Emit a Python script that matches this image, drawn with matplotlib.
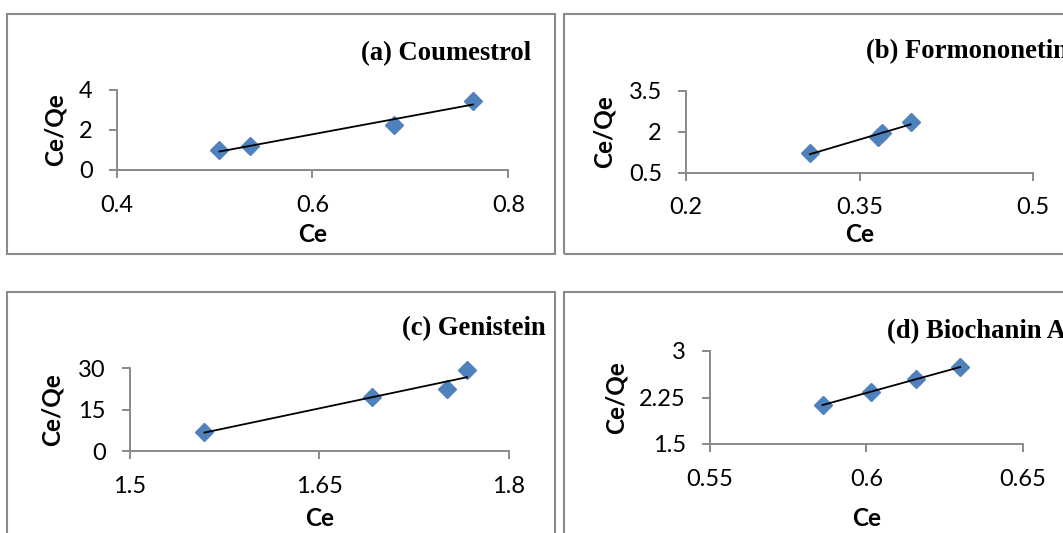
import numpy as np
import matplotlib
matplotlib.use('Agg')
import matplotlib.pyplot as plt
from matplotlib.patches import Rectangle
from matplotlib.ticker import FuncFormatter

# Langmuir-type plots: Ce/Qe against Ce for four isoflavones
coum_ce = [0.505, 0.536, 0.683, 0.764]
coum_ratio = [1.00, 1.22, 2.25, 3.47]

form_ce = [0.307, 0.366, 0.369, 0.394]
form_ratio = [1.21, 1.82, 1.94, 2.34]

gen_ce = [1.559, 1.692, 1.751, 1.767]
gen_ratio = [6.9, 19.5, 22.4, 29.4]

bio_ce = [0.586, 0.6015, 0.616, 0.630]
bio_ratio = [2.13, 2.34, 2.55, 2.74]

coum_xticks = [0.4, 0.6, 0.8]
coum_yticks = [0, 2, 4]
form_xticks = [0.2, 0.35, 0.5]
form_yticks = [0.5, 2, 3.5]
gen_xticks = [1.5, 1.65, 1.8]
gen_yticks = [0, 15, 30]
bio_xticks = [0.55, 0.6, 0.65]
bio_yticks = [1.5, 2.25, 3]

W, H = 1063, 533
SANS = 'Lato'
SERIF = 'Liberation Serif'
AXIS_GREY = '#898989'
BOX_GREY = '#8a8a8a'
BLUE = '#4F81BD'

fig = plt.figure(figsize=(W / 100, H / 100), dpi=100)


def px_box(x0, y0, x1, y1):
    # pixel corners (top-left origin) -> figure fraction rect
    return [x0 / W, 1 - y1 / H, (x1 - x0) / W, (y1 - y0) / H]


def panel_frame(x0, y0, x1, y1):
    r = Rectangle((x0 / W, 1 - y1 / H), (x1 - x0) / W, (y1 - y0) / H,
                  transform=fig.transFigure, fill=False,
                  edgecolor=BOX_GREY, linewidth=1.5, clip_on=False)
    fig.patches.append(r)


def draw_panel(rect, xs, ys, xticks, yticks, title, title_xy, ylab_x, xlab_y):
    ax = fig.add_axes(px_box(*rect))
    ax.set_xlim(xticks[0], xticks[-1])
    ax.set_ylim(yticks[0], yticks[-1])
    ax.set_xticks(xticks)
    ax.set_yticks(yticks)
    fmt = FuncFormatter(lambda v, p: '{:g}'.format(round(v, 4)))
    ax.xaxis.set_major_formatter(fmt)
    ax.yaxis.set_major_formatter(fmt)
    ax.patch.set_alpha(0)
    for s in ['top', 'right']:
        ax.spines[s].set_visible(False)
    for s in ['left', 'bottom']:
        ax.spines[s].set_color(AXIS_GREY)
        ax.spines[s].set_linewidth(1.4)
    ax.tick_params(axis='both', direction='out', length=5.8, width=1.4,
                   color=AXIS_GREY, labelsize=17, labelcolor='black')
    ax.tick_params(axis='x', pad=12)
    ax.tick_params(axis='y', pad=11.5)
    for lab in ax.get_xticklabels() + ax.get_yticklabels():
        lab.set_fontfamily(SANS)

    ax.plot(xs, ys, linestyle='none', marker='D', markersize=9.5,
            color=BLUE, markeredgecolor=BLUE, clip_on=False, zorder=3)

    # linear trendline over the data range
    k, b = np.polyfit(xs, ys, 1)
    xl = np.array([min(xs), max(xs)])
    ax.plot(xl, k * xl + b, color='black', linewidth=1.3, zorder=4)

    x0, y0, x1, y1 = rect
    fig.text(title_xy[0] / W, 1 - title_xy[1] / H, title, family=SERIF,
             fontweight='bold', fontsize=19.2, ha='left', va='center')
    fig.text(ylab_x / W, 1 - (y0 + y1) / 2 / H, 'Ce/Qe', family=SANS,
             fontweight='bold', fontsize=17.5, rotation=90,
             ha='center', va='center')
    fig.text((x0 + x1) / 2 / W, 1 - xlab_y / H, 'Ce', family=SANS,
             fontweight='bold', fontsize=17.5, ha='center', va='center')
    return ax


# outer frames of the four chart areas
panel_frame(7, 14, 555, 254)
panel_frame(564, 14, 1075, 254)
panel_frame(7, 292, 555, 545)
panel_frame(564, 292, 1075, 545)

draw_panel((116.7, 90, 508.3, 170), coum_ce, coum_ratio,
           coum_xticks, coum_yticks, '(a) Coumestrol', (361, 54), 55, 235)
draw_panel((686, 90.7, 1033.3, 172.7), form_ce, form_ratio,
           form_xticks, form_yticks, '(b) Formononetin', (866, 52), 604, 235)
draw_panel((130, 368.3, 508.7, 451), gen_ce, gen_ratio,
           gen_xticks, gen_yticks, '(c) Genistein', (402, 329), 52, 519)
draw_panel((710, 351, 1022.7, 444), bio_ce, bio_ratio,
           bio_xticks, bio_yticks, '(d) Biochanin A', (887, 332), 616, 518)

fig.savefig('out.png', dpi=100)
